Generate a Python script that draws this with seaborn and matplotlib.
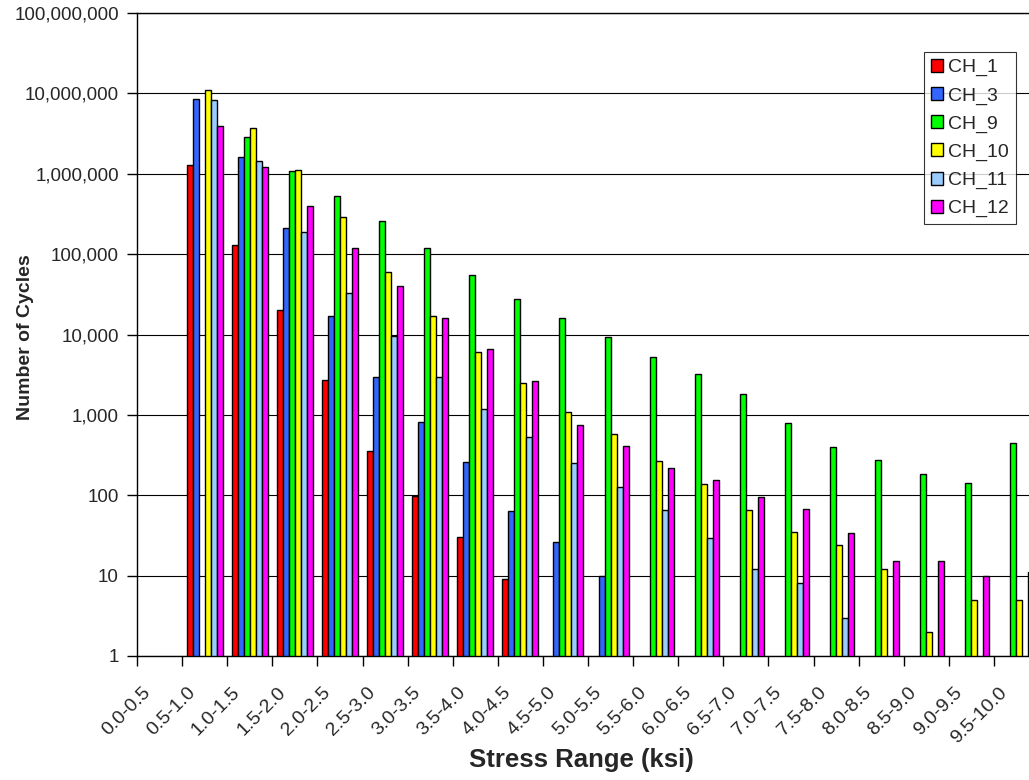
import numpy as np
import pandas as pd
import matplotlib
matplotlib.use('Agg')
import matplotlib.pyplot as plt
import matplotlib.ticker as mticker
from matplotlib.transforms import ScaledTranslation
import seaborn as sns

nan = np.nan

stress_ranges = ['0.0-0.5', '0.5-1.0', '1.0-1.5', '1.5-2.0', '2.0-2.5', '2.5-3.0',
                 '3.0-3.5', '3.5-4.0', '4.0-4.5', '4.5-5.0', '5.0-5.5', '5.5-6.0',
                 '6.0-6.5', '6.5-7.0', '7.0-7.5', '7.5-8.0', '8.0-8.5', '8.5-9.0',
                 '9.0-9.5', '9.5-10.0']

channels = ['CH_1', 'CH_3', 'CH_9', 'CH_10', 'CH_11', 'CH_12']

ch_1 = [nan, 1.3e6, 1.3e5, 2.0e4, 2700, 360, 97, 30, 9, nan,
        nan, nan, nan, nan, nan, nan, nan, nan, nan, nan]
ch_3 = [nan, 8.5e6, 1.6e6, 2.1e5, 1.7e4, 3000, 820, 260, 63, 26,
        10, nan, nan, nan, nan, nan, nan, nan, nan, nan]
ch_9 = [nan, nan, 2.9e6, 1.07e6, 5.3e5, 2.6e5, 1.18e5, 5.5e4, 2.8e4, 1.6e4,
        9300, 5200, 3200, 1800, 790, 400, 275, 183, 142, 445]
ch_10 = [nan, 1.1e7, 3.7e6, 1.1e6, 2.9e5, 6.0e4, 1.7e4, 6000, 2500, 1080,
         580, 270, 140, 66, 35, 24, 12, 2, 5, 5]
ch_11 = [nan, 8.3e6, 1.45e6, 1.9e5, 3.3e4, 9500, 3000, 1180, 530, 250,
         126, 66, 29, 12, 8, 3, nan, nan, nan, nan]
ch_12 = [nan, 3.9e6, 1.2e6, 4.0e5, 1.18e5, 4.0e4, 1.6e4, 6600, 2650, 740,
         410, 220, 155, 95, 67, 34, 15, 15, 10, 11]

colors = ['#FF0000', '#3366FF', '#00FF00', '#FFFF00', '#99CCFF', '#FF00FF']

rows = []
for ch, vals in zip(channels, [ch_1, ch_3, ch_9, ch_10, ch_11, ch_12]):
    for sr, v in zip(stress_ranges, vals):
        rows.append({'range': sr, 'channel': ch, 'cycles': v})
df = pd.DataFrame(rows).dropna()

sns.set_style('white')
plt.rcParams['font.family'] = ['Liberation Sans', 'DejaVu Sans']

fig = plt.figure(figsize=(10.29, 7.8), dpi=100)
# plot area runs past the right edge, like the original
ax = fig.add_axes([137 / 1029, 124 / 780, 902 / 1029, 643 / 780])

sns.barplot(data=df, x='range', y='cycles', hue='channel', order=stress_ranges,
            hue_order=channels, palette=dict(zip(channels, colors)), saturation=1,
            width=0.8, errorbar=None, edgecolor='black', linewidth=1.0, ax=ax)

ax.set_yscale('log')
ax.set_ylim(1, 1e8)
ax.set_xlim(-0.5, len(stress_ranges) - 0.5)
ax.set_axisbelow(True)
ax.yaxis.grid(True, color='black', linewidth=0.8)
ax.xaxis.grid(False)

ax.yaxis.set_major_locator(mticker.LogLocator(base=10, numticks=12))
ax.yaxis.set_minor_locator(mticker.NullLocator())
ax.yaxis.set_major_formatter(mticker.FuncFormatter(lambda v, p: f'{v:,.0f}'))
ax.tick_params(axis='y', which='major', direction='out', length=7, width=1,
               color='black', labelsize=13.5, pad=6, left=True)

ax.set_xticks(range(len(stress_ranges)))
ax.set_xticks(np.arange(-0.5, len(stress_ranges), 1.0), minor=True)
ax.set_xticklabels(stress_ranges, rotation=45, ha='right', va='top')
ax.tick_params(axis='x', which='major', length=0, labelsize=14, pad=20)
ax.tick_params(axis='x', which='minor', direction='out', length=7, width=1,
               color='black', bottom=True)
shift = ScaledTranslation(-6 / 100, 0, fig.dpi_scale_trans)
for lab in ax.get_xticklabels():
    lab.set_transform(lab.get_transform() + shift)

for s in ['left', 'bottom', 'top', 'right']:
    ax.spines[s].set_color('black')
    ax.spines[s].set_linewidth(1)

ax.set_xlabel('')
ax.set_ylabel('')
fig.text(581 / 1029, 1 - 760 / 780, 'Stress Range (ksi)', fontsize=18.5,
         fontweight='bold', ha='center', va='center')
fig.text(26 / 1029, 1 - 337 / 780, 'Number of Cycles', fontsize=14,
         fontweight='bold', rotation=90, ha='center', va='center')

leg = ax.legend(loc='upper left', bbox_to_anchor=(924 / 1029, 1 - 52 / 780),
                bbox_transform=fig.transFigure, fontsize=14, frameon=True,
                fancybox=False, shadow=False, handlelength=0.65, handleheight=0.65,
                handletextpad=0.25, labelspacing=0.55, borderpad=0.35,
                borderaxespad=0)
leg.get_frame().set_edgecolor('black')
leg.get_frame().set_linewidth(0.8)

fig.savefig('out.png', dpi=100)
